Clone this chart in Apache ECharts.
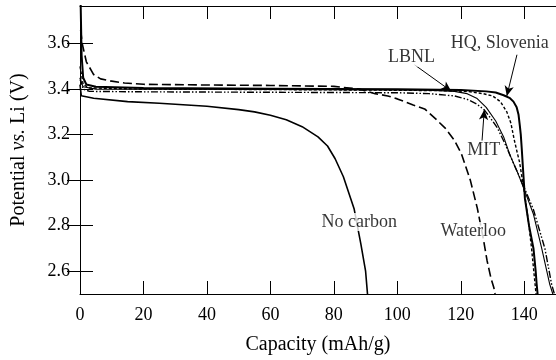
<!DOCTYPE html>
<html>
<head>
<meta charset="utf-8">
<script src="https://cdn.jsdelivr.net/npm/echarts@6/dist/echarts.min.js"></script>
<style>html,body{margin:0;padding:0;background:#fff}#c{width:556px;height:360px}</style>
</head>
<body>
<div id="c"></div>
<script>
// Capacity (mAh/g), Potential (V)
const hqSlovenia = [[0.2,3.78],[0.5,3.55],[1,3.45],[2,3.42],[5,3.41],[20,3.405],[60,3.402],[100,3.399],[120,3.396],[128,3.39],[131,3.385],[133.5,3.373],[135.5,3.36],[136.6,3.345],[137.6,3.32],[138.2,3.287],[138.6,3.24],[138.9,3.2],[139.2,3.14],[139.6,3.05],[140.2,2.92],[141.5,2.8],[142.9,2.7],[143.6,2.6],[143.9,2.544],[144.2,2.5]];
const lbnl = [[0,3.5],[1,3.42],[3,3.405],[20,3.4],[60,3.398],[100,3.395],[115,3.393],[122,3.39],[127,3.38],[130,3.37],[132.5,3.345],[134.5,3.3],[135.8,3.25],[136.8,3.18],[137.8,3.12],[138.5,3.08],[140,2.95],[141.3,2.82],[142.3,2.7],[143.4,2.544],[143.7,2.5]];
const mit = [[0,3.45],[1,3.4],[3,3.39],[20,3.388],[60,3.386],[100,3.384],[110,3.38],[118,3.37],[122,3.355],[125,3.335],[127.4,3.309],[129.5,3.27],[131.5,3.23],[133.6,3.17],[135.5,3.11],[138,3.03],[140.5,2.95],[142.9,2.87],[144.8,2.78],[146.5,2.7],[148.6,2.544],[149.5,2.5]];
const mitSolid = [[0,3.44],[1,3.41],[5,3.4],[60,3.398],[110,3.395],[118,3.39],[122,3.38],[125,3.36],[128,3.32],[131,3.26],[133.5,3.19],[135.5,3.11],[138,3.03],[140.5,2.94],[142.9,2.85],[145.5,2.7],[148,2.544],[149,2.5]];
const waterloo = [[0.2,3.66],[0.7,3.6],[2,3.52],[4.3,3.464],[6.5,3.445],[9.5,3.436],[14,3.427],[20,3.421],[40,3.418],[60,3.416],[80,3.412],[88,3.4],[93,3.38],[97,3.37],[100,3.357],[105,3.33],[108.6,3.313],[112,3.27],[115,3.23],[118,3.175],[120.2,3.116],[123,3.0],[125.2,2.877],[127,2.75],[128.3,2.645],[129.5,2.57],[130.4,2.529],[130.8,2.5]];
const noCarbon = [[0,3.42],[0.4,3.371],[4.3,3.36],[15,3.345],[25,3.338],[40,3.325],[50,3.31],[55,3.3],[60,3.285],[65,3.265],[70,3.235],[75,3.19],[78,3.15],[80.4,3.094],[83,3.015],[86.4,2.873],[88.5,2.72],[90,2.6],[90.6,2.5]];

const xTicks = [0,20,40,60,80,100,120,140];
const yTicks = [2.6,2.8,3.0,3.2,3.4,3.6];

// annotation labels: [text, capacity, potential]
const labels = [["LBNL",104.5,3.538],["HQ, Slovenia",116.5,3.603],["MIT",127.2,3.131],["No carbon",88.0,2.816],["Waterloo",123.9,2.777]];
// arrows: [fromCap, fromV, toCap, toV]
const arrows = [[105.4,3.507,117.0,3.391],[137.7,3.551,134.5,3.370],[126.7,3.174,127.4,3.309]];

const FONT = 'Liberation Serif';
const chart = echarts.init(document.getElementById('c'), null, {renderer:'canvas'});
const axisCommon = {
  axisLine:{show:true,lineStyle:{color:'#000',width:1}},
  axisTick:{show:true,inside:true,length:13,lineStyle:{color:'#000',width:1}},
  splitLine:{show:false}
};
const lineSeries = (name, data, width, type) => ({
  name, type:'line', data, showSymbol:false, symbol:'none', smooth:false,
  lineStyle:{color:'#000', width, type}, z:3, silent:true
});
chart.setOption({
  animation:false,
  backgroundColor:'#fff',
  grid:{left:80,right:-3,top:6,bottom:63},
  xAxis:[
    Object.assign({type:'value',min:0,max:150,position:'bottom',
      name:'Capacity (mAh/g)',nameLocation:'middle',nameGap:41,
      nameTextStyle:{fontFamily:FONT,fontSize:20,color:'#000'},
      axisLabel:{fontFamily:FONT,fontSize:18,color:'#000',margin:12,customValues:xTicks},
    }, axisCommon, {axisTick:Object.assign({},axisCommon.axisTick,{customValues:xTicks})}),
    Object.assign({type:'value',min:0,max:150,position:'top',axisLabel:{show:false}},
      axisCommon, {axisTick:Object.assign({},axisCommon.axisTick,{customValues:xTicks})})
  ],
  yAxis:[
    Object.assign({type:'value',min:2.5,max:3.765,position:'left',
      name:'Potential {i|vs.} Li (V)',nameLocation:'middle',nameGap:51,nameRotate:90,
      nameTextStyle:{fontFamily:FONT,fontSize:20,color:'#000',rich:{i:{fontFamily:FONT,fontSize:20,fontStyle:'italic',color:'#000'}}},
      axisLabel:{fontFamily:FONT,fontSize:18,color:'#000',margin:10,customValues:yTicks,formatter:v=>v.toFixed(1)},
    }, axisCommon, {axisTick:Object.assign({},axisCommon.axisTick,{customValues:yTicks})}),
    Object.assign({type:'value',min:2.5,max:3.765,position:'right',axisLabel:{show:false}},
      axisCommon, {axisTick:Object.assign({},axisCommon.axisTick,{customValues:yTicks})})
  ],
  series:[
    lineSeries('No carbon', noCarbon, 1.6, 'solid'),
    lineSeries('Waterloo', waterloo, 1.6, [9,4]),
    lineSeries('MIT', mit, 1.4, [7,2,1.5,2,1.5,2]),
    lineSeries('MIT solid', mitSolid, 1.1, 'solid'),
    lineSeries('LBNL', lbnl, 1.4, [3,2]),
    Object.assign(lineSeries('HQ, Slovenia', hqSlovenia, 2, 'solid'), {
      markLine:{silent:true,symbol:['none','arrow'],symbolSize:[7,10],
        lineStyle:{color:'#000',width:1,type:'solid'},label:{show:false},
        data:arrows.map(a=>[{coord:[a[0],a[1]]},{coord:[a[2],a[3]]}])}
    }),
    {type:'scatter',name:'labels',silent:true,symbolSize:0,z:5,
      data:labels.map(l=>({name:l[0],value:[l[1],l[2]],
        label:{show:true,position:'inside',formatter:l[0],align:l[0].startsWith('HQ')?'left':'center',
          fontFamily:FONT,fontSize:18,color:'#000',backgroundColor:'#fff',padding:[0,1]}}))}
  ]
});
</script>
</body>
</html>
